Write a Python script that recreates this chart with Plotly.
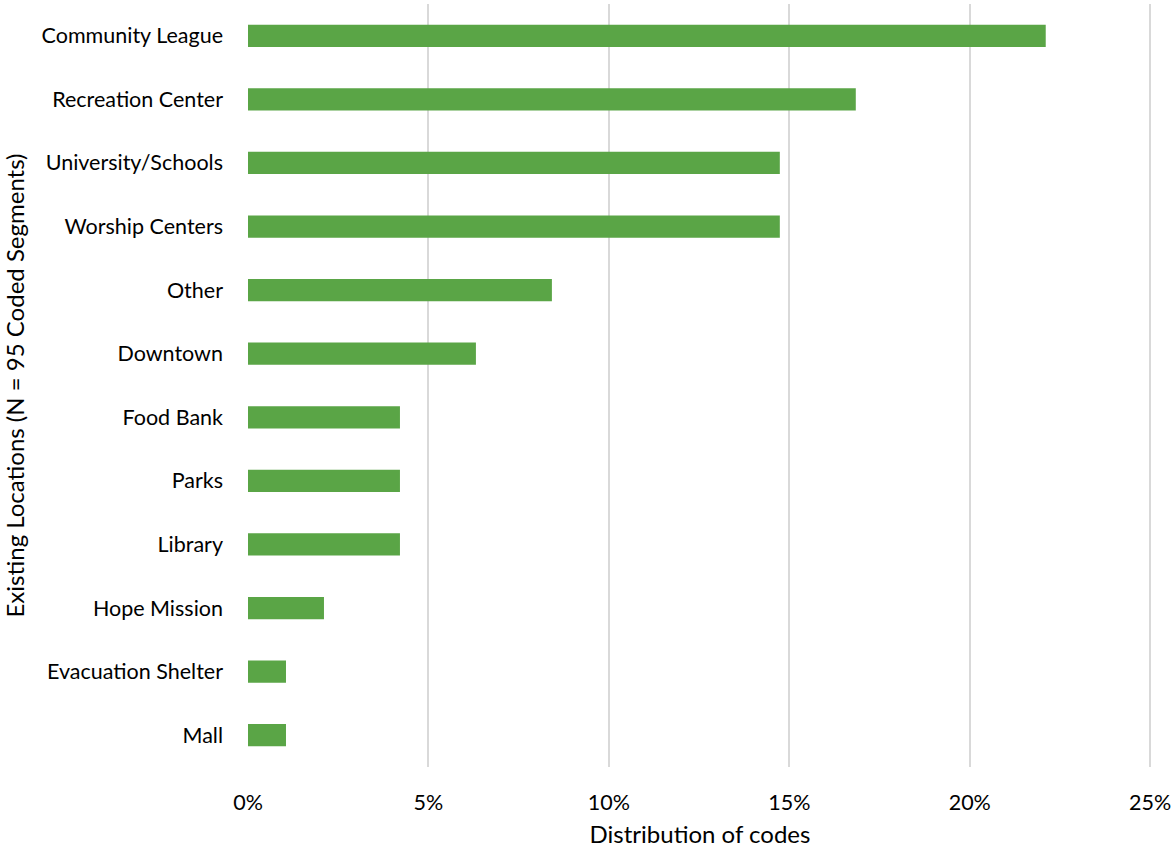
import plotly.graph_objects as go

categories = ["Community League", "Recreation Center", "University/Schools", "Worship Centers",
              "Other", "Downtown", "Food Bank", "Parks", "Library", "Hope Mission",
              "Evacuation Shelter", "Mall"]
counts = [21, 16, 14, 14, 8, 6, 4, 4, 4, 2, 1, 1]
N = 95
values = [c / N for c in counts]
tick_values = [0, 0.05, 0.10, 0.15, 0.20, 0.25]

FONT = "Lato"
fig = go.Figure(go.Bar(
    x=values, y=categories, orientation="h",
    marker=dict(color="#5AA546", line=dict(width=0)),
    width=0.35,
))
fig.update_layout(
    width=1171, height=848,
    margin=dict(l=248, r=19, t=4, b=81, autoexpand=False),
    paper_bgcolor="white", plot_bgcolor="white",
    font=dict(family=FONT, size=21.5, color="#000000"),
    showlegend=False,
    bargap=0.65,
)
fig.update_xaxes(
    range=[0, 0.2505], tickvals=tick_values,
    tickformat=".0%", showgrid=True, gridcolor="#D9D9D9", gridwidth=2,
    zeroline=False, showline=False, ticks="", ticklabelstandoff=20, automargin=False,
    ticklabeloverflow="allow",
    title=dict(text="Distribution of codes", standoff=12, font=dict(size=24)),
)
fig.update_yaxes(
    categoryorder="array", categoryarray=categories, autorange="reversed",
    showgrid=False, zeroline=False, showline=False, ticks="", ticklabelstandoff=24,
    automargin=False,
    title=dict(text="Existing Locations (N = 95 Coded Segments)", standoff=14, font=dict(size=24)),
)
fig.write_html("out.html", config={"displayModeBar": False},
               post_script="document.body.style.margin='0';document.body.style.overflow='hidden';")
